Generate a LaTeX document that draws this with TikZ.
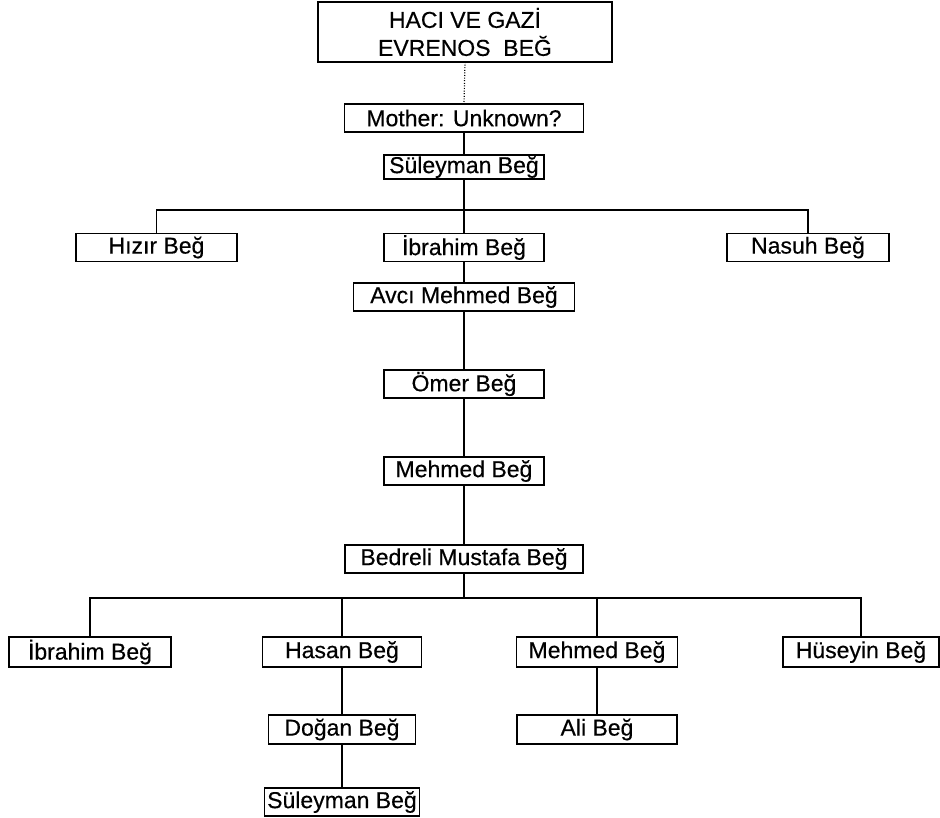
\documentclass[tikz,border=0pt]{standalone}
\usepackage{fontspec}
\setmainfont{Liberation Sans}[FakeBold=0.4]
\begin{document}
\begin{tikzpicture}[x=1pt, y=-1pt,
  every node/.style={font=\fontsize{23}{28}\selectfont, inner sep=0pt, outer sep=0pt},
  person/.style={draw=black, line width=1.4pt, minimum height=28pt},
  link/.style={draw=black, line width=1.4pt},
  dotlink/.style={draw=black, line width=1.2pt, dash pattern=on 1pt off 1.6pt}]
  \fill[white] (0,0) rectangle (940,817);
  \useasboundingbox (0,0) rectangle (940,817);

  % founder and first generations
  \node[person, minimum width=294pt, minimum height=60pt, align=center] (top) at (465,32)
    {HACI VE GAZİ\\EVRENOS\ \ BEĞ};
  \node[person, minimum width=239pt] (mother) at (464,118) {Mother: Unknown?};
  \node[person, minimum width=160pt, minimum height=24pt] (sul1) at (464,167) {Süleyman Beğ};

  % sons of Süleyman Beğ
  \node[person, minimum width=161pt] (hizir) at (156.5,247.5) {Hızır Beğ};
  \node[person, minimum width=160pt] (ibr1) at (464,247.5) {İbrahim Beğ};
  \node[person, minimum width=162pt] (nasuh) at (808,247.5) {Nasuh Beğ};

  % main line
  \node[person, minimum width=221pt] (avci) at (464,297) {Avcı Mehmed Beğ};
  \node[person, minimum width=160pt] (omer) at (464,384) {Ömer Beğ};
  \node[person, minimum width=160pt] (mehmed1) at (464,471) {Mehmed Beğ};
  \node[person, minimum width=238pt] (bedreli) at (464,559) {Bedreli Mustafa Beğ};

  % sons of Bedreli Mustafa Beğ
  \node[person, minimum width=162pt, minimum height=30pt] (ibr2) at (90,652) {İbrahim Beğ};
  \node[person, minimum width=159pt, minimum height=30pt] (hasan) at (342,652) {Hasan Beğ};
  \node[person, minimum width=161pt, minimum height=30pt] (mehmed2) at (597,652) {Mehmed Beğ};
  \node[person, minimum width=156pt, minimum height=30pt] (huseyin) at (861,652) {Hüseyin Beğ};

  % grandsons
  \node[person, minimum width=147pt, minimum height=29pt] (dogan) at (342,729.5) {Doğan Beğ};
  \node[person, minimum width=160pt, minimum height=29pt] (ali) at (597,729.5) {Ali Beğ};
  \node[person, minimum width=155pt, minimum height=28pt] (sul2) at (342,802) {Süleyman Beğ};

  % junctions of the sibling bars
  \coordinate (j1) at (464,210);
  \coordinate (j2) at (464,598);

  % connectors
  \draw[dotlink] (top.south) -- (mother.north);
  \draw[link] (mother.south) -- (sul1.north);
  \draw[link] (sul1.south) -- (j1);
  \draw[link] (hizir.north) |- (j1) -| (nasuh.north);
  \draw[link] (j1) -- (ibr1.north);
  \draw[link] (ibr1.south) -- (avci.north);
  \draw[link] (avci.south) -- (omer.north);
  \draw[link] (omer.south) -- (mehmed1.north);
  \draw[link] (mehmed1.south) -- (bedreli.north);
  \draw[link] (bedreli.south) -- (j2);
  \draw[link] (ibr2.north) |- (j2) -| (huseyin.north);
  \draw[link] (hasan.north) -- (hasan.north |- j2);
  \draw[link] (mehmed2.north) -- (mehmed2.north |- j2);
  \draw[link] (hasan.south) -- (dogan.north);
  \draw[link] (dogan.south) -- (sul2.north);
  \draw[link] (mehmed2.south) -- (ali.north);
\end{tikzpicture}
\end{document}
